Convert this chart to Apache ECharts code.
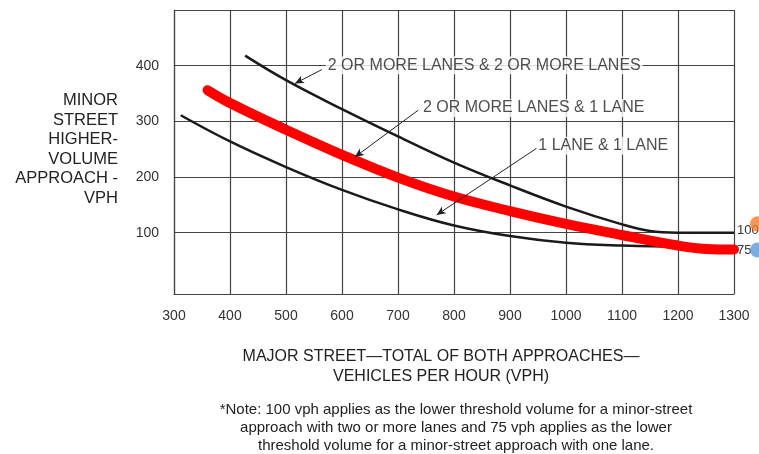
<!DOCTYPE html>
<html>
<head>
<meta charset="utf-8">
<script src="https://cdn.jsdelivr.net/npm/echarts@6/dist/echarts.min.js"></script>
<style>
  html, body { margin: 0; padding: 0; background: #fff; }
  #container { width: 759px; height: 454px; }
</style>
</head>
<body>
<div id="container"></div>
<script>
// curves: [major street vph, minor street vph]
const twoAndTwo = [[427, 418], [500, 374], [600, 322], [700, 273], [800, 226], [900, 185],
    [1000, 147], [1100, 115], [1150, 103], [1200, 100], [1300, 100]];
const twoAndOne = [[360, 356], [400, 333], [500, 285], [600, 240], [700, 199], [800, 165], [900, 139],
    [1000, 116], [1100, 96], [1200, 77], [1250, 71], [1300, 70]];
const oneAndOne = [[312, 311], [400, 264], [500, 218], [600, 177], [700, 142], [800, 113], [900, 94],
    [1000, 82], [1100, 77], [1200, 75], [1300, 75]];

const xTicks = [300, 400, 500, 600, 700, 800, 900, 1000, 1100, 1200, 1300];
const yTicks = [100, 200, 300, 400];
const yGrid = [100, 200, 300, 400, 500];

// curve callouts
const calloutText = ['2 OR MORE LANES & 2 OR MORE LANES', '2 OR MORE LANES & 1 LANE', '1 LANE & 1 LANE'];
const calloutAt = [[571, 401], [741, 324], [947, 256]];
const leaderFrom = [[564, 393], [736, 320], [948, 252]];
const leaderTo = [[516, 368], [623, 236], [769, 132]];

const endText = ['100', '75'];
const dotOrange = [[1342, 116]];
const dotBlue = [[1342, 69]];

const FONT = '"Liberation Sans", Arial, sans-serif';

let dom = document.getElementById('container');
let myChart = echarts.init(dom, null, { renderer: 'canvas' });

let option = {
    animation: false,
    grid: { left: 174, right: 25, top: 10, bottom: 160 },
    xAxis: {
        type: 'value',
        min: xTicks[0],
        max: xTicks[xTicks.length - 1],
        interval: 100,
        axisLine: { onZero: false, lineStyle: { color: '#444', width: 1.2 } },
        axisTick: { show: false },
        axisLabel: {
            fontSize: 14, color: '#333', margin: 15, fontFamily: FONT,
            formatter: function (v) { return String(v); }
        },
        splitLine: { show: true, lineStyle: { color: '#444', width: 1.2 } }
    },
    yAxis: {
        type: 'value',
        min: -10,
        max: 500,
        axisLine: { show: true, lineStyle: { color: '#444', width: 1.2 } },
        axisTick: { show: false, customValues: yGrid },
        axisLabel: { fontSize: 14, color: '#333', margin: 15, fontFamily: FONT, customValues: yTicks },
        splitLine: { show: true, lineStyle: { color: '#444', width: 1.2 } }
    },
    series: [
        {
            name: '2 or more & 2 or more',
            type: 'line',
            data: twoAndTwo,
            smooth: 0.4,
            symbol: 'none',
            lineStyle: { color: '#1a1a1a', width: 2.5 },
            endLabel: {
                show: true, formatter: endText[0], fontSize: 13, color: '#333',
                fontFamily: FONT, distance: 3, offset: [0, -2]
            },
            z: 3
        },
        {
            name: '1 & 1',
            type: 'line',
            data: oneAndOne,
            smooth: 0.4,
            symbol: 'none',
            lineStyle: { color: '#1a1a1a', width: 2.5 },
            endLabel: {
                show: true, formatter: endText[1], fontSize: 13, color: '#333',
                fontFamily: FONT, distance: 3, offset: [0, 4]
            },
            z: 3
        },
        {
            name: '2 or more & 1',
            type: 'line',
            data: twoAndOne,
            smooth: 0.4,
            symbol: 'none',
            lineStyle: { color: '#ff0000', width: 10, cap: 'round', join: 'round' },
            z: 4
        },
        {
            name: 'callouts',
            type: 'scatter',
            data: calloutAt.map((p, i) => ({ value: p, name: calloutText[i] })),
            symbolSize: 0,
            label: {
                show: true,
                position: 'right',
                distance: 0,
                formatter: '{b}',
                fontSize: 16,
                color: '#222',
                fontFamily: FONT,
                backgroundColor: '#fff',
                padding: [1, 2]
            },
            markLine: {
                silent: true,
                symbol: ['none', 'arrow'],
                symbolSize: [6, 9],
                label: { show: false },
                lineStyle: { color: '#222', width: 1, type: 'solid' },
                data: leaderFrom.map((p, i) => [{ coord: p }, { coord: leaderTo[i] }])
            },
            z: 5
        },
        {
            type: 'scatter',
            data: dotOrange,
            symbolSize: 15,
            clip: false,
            itemStyle: { color: '#ED7D31' },
            z: 6
        },
        {
            type: 'scatter',
            data: dotBlue,
            symbolSize: 15,
            clip: false,
            itemStyle: { color: '#5B9BD5' },
            z: 6
        }
    ],
    graphic: [
        {
            type: 'text',
            x: 118, y: 91,
            style: {
                text: 'MINOR\nSTREET\nHIGHER-\nVOLUME\nAPPROACH -\nVPH',
                font: '16.5px ' + FONT,
                fill: '#222',
                textAlign: 'right',
                lineHeight: 19.5
            }
        },
        {
            type: 'text',
            x: 441, y: 347,
            style: {
                text: 'MAJOR STREET\u2014TOTAL OF BOTH APPROACHES\u2014\nVEHICLES PER HOUR (VPH)',
                font: '16px ' + FONT,
                fill: '#222',
                textAlign: 'center',
                lineHeight: 20
            }
        },
        {
            type: 'text',
            x: 456, y: 401,
            style: {
                text: '*Note: 100 vph applies as the lower threshold volume for a minor-street\napproach with two or more lanes and 75 vph applies as the lower\nthreshold volume for a minor-street approach with one lane.',
                font: '15px ' + FONT,
                fill: '#222',
                textAlign: 'center',
                lineHeight: 18
            }
        }
    ]
};

myChart.setOption(option);
</script>
</body>
</html>
